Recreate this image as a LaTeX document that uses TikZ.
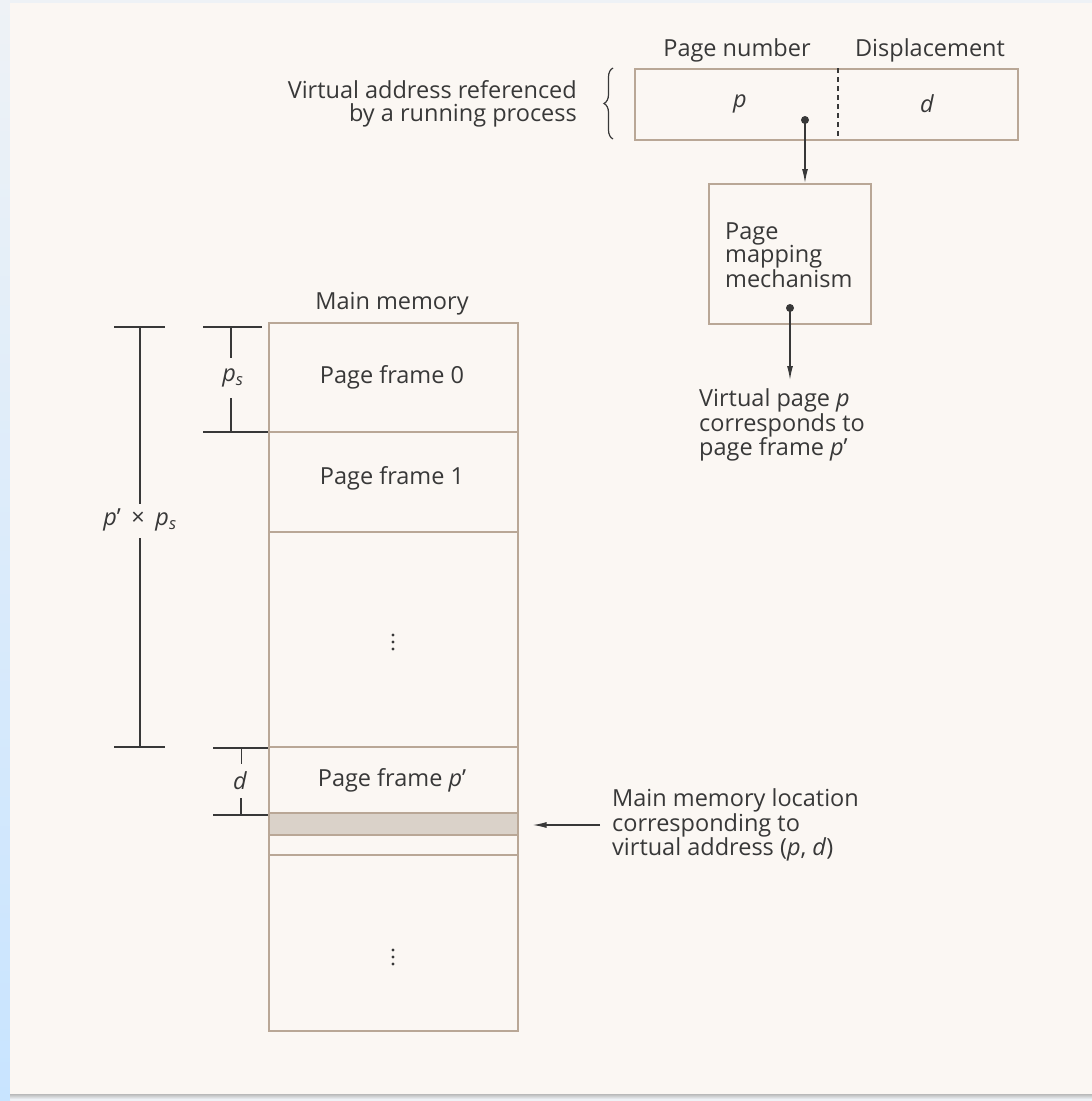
\documentclass[tikz,border=0pt]{standalone}
\usepackage{fontspec}
\setmainfont{Open Sans}
\usetikzlibrary{decorations.pathreplacing,arrows.meta,calc}
\definecolor{paper}{HTML}{FBF7F3}
\definecolor{frame}{HTML}{B9A796}
\definecolor{ink}{HTML}{383838}
\definecolor{bandfill}{HTML}{DAD2C9}
\definecolor{sidetop}{HTML}{EEF2F6}
\definecolor{sidebot}{HTML}{C8E4FF}
\begin{document}
\begin{tikzpicture}[x=1pt,y=-1pt,
  boxline/.style={draw=frame,line width=1.6pt},
  rowline/.style={draw=frame,line width=1.4pt},
  dimline/.style={draw=ink,line width=1.4pt},
  lbl/.style={text=ink,font=\fontsize{23.5}{22.5}\selectfont,inner sep=0pt},
  arr/.style={draw=ink,line width=1.3pt,-{Latex[length=14pt,width=6pt]}},
  blob/.style={circle,fill=ink,inner sep=0pt,minimum size=8pt},
  vdot/.style={circle,fill=ink,inner sep=0pt,minimum size=3.4pt}]
% background
\useasboundingbox (0,0) rectangle (1092,1101);
\fill[sidetop] (0,0) rectangle (1092,1101);
\shade[top color=sidetop,bottom color=sidebot] (0,0) rectangle (10,1101);
\fill[paper] (10,3) rectangle (1092,1094);
\shade[top color=gray!55,bottom color=sidetop] (10,1094) rectangle (1092,1099);

% virtual address
\node[boxline,minimum width=383pt,minimum height=71pt,anchor=north west,inner sep=0pt] (va) at (634,68) {};
\coordinate (divt) at (838,68);
\coordinate (divb) at (838,139);
\draw[draw=ink,line width=1.1pt,dash pattern=on 5pt off 4pt] (divt) -- (divb);
\node[lbl] (pn) at (737,50) {Page number};
\node[lbl] (dp) at (930,50) {Displacement};
\node[lbl] (pp) at (740,104) {\itshape p};
\node[lbl] (dd) at (927,104) {\itshape d};
\draw[ink,line width=1.2pt,decorate,decoration={brace,amplitude=9pt}] (613,139) -- (613,68);
\node[lbl,align=right,anchor=east] (vaddr) at (577,104) {Virtual address referenced\\by a running process};

% page mapping mechanism
\node[boxline,minimum width=162pt,minimum height=140pt,anchor=north west,inner sep=0pt] (pm) at (708,183) {};
\node[lbl,align=left,anchor=west] (pmt) at (725,255) {Page\\mapping\\mechanism};
\node[blob] (d1) at (805,120) {};
\draw[arr] (d1.center) -- (d1.center |- pm.north);
\node[blob] (d2) at (790,308) {};
\coordinate (vpt) at (790,380);
\draw[arr] (d2.center) -- (vpt);
\node[lbl,align=left,anchor=west] (vp) at (699,425) {Virtual page \textit{p}\\corresponds to\\page frame \textit{p}’};

% main memory
\node[lbl] (mml) at (392,304) {Main memory};
\fill[bandfill] (268,813) rectangle (517,835);
\node[boxline,minimum width=249pt,minimum height=708pt,anchor=north west,inner sep=0pt] (mm) at (268,322) {};
\foreach \yy in {432,532,747,813,835,855}
  \draw[rowline] (mm.west |- 0,\yy) -- (mm.east |- 0,\yy);
\node[lbl] (pf0) at (392,377) {Page frame 0};
\node[lbl] (pf1) at (392,478) {Page frame 1};
\node[lbl] (pfp) at (392,780) {Page frame \textit{p}’};
\foreach \yy in {635,642,649} \node[vdot] at (393,\yy) {};
\foreach \yy in {950,957,964} \node[vdot] at (393,\yy) {};

% dimension p' x ps
\coordinate (bt) at (140,327);
\coordinate (bb) at (140,747);
\node[lbl] (bl) at (140,520) {\textit{p}’\hspace{0.45em}×\hspace{0.45em}\textit{p}\textsubscript{\textit{s}}};
\draw[dimline] ($(bt)+(-26,0)$) -- ($(bt)+(25,0)$);
\draw[dimline] ($(bb)+(-26,0)$) -- ($(bb)+(25,0)$);
\draw[dimline,line width=1.1pt] (bt) -- (140,504);
\draw[dimline,line width=1.1pt] (140,538) -- (bb);

% dimension ps
\coordinate (st) at (231,327);
\coordinate (sb) at (231,432);
\node[lbl] (sl) at (233,378) {\textit{p}\textsubscript{\textit{s}}};
\draw[dimline] (203,327) -- (262,327);
\draw[dimline] (203,432) -- (mm.west |- sb);
\draw[dimline] (st) -- (231,358);
\draw[dimline] (231,398) -- (sb);

% dimension d
\coordinate (dt) at (241,748);
\coordinate (db) at (241,815);
\node[lbl] (dl) at (240,781) {\textit{d}};
\draw[dimline] (213,748) -- (mm.west |- dt);
\draw[dimline] (213,815) -- (mm.west |- db);
\draw[dimline,line width=1pt] (dt) -- (241,764);
\draw[dimline] (241,798) -- (db);

% location pointer
\node[lbl,align=left,anchor=west] (loc) at (612,825) {Main memory location\\corresponding to\\virtual address (\textit{p}, \textit{d})};
\coordinate (lt) at (600,825);
\draw[arr] (lt) -- ($(mm.east |- lt)+(14,0)$);
\end{tikzpicture}
\end{document}
